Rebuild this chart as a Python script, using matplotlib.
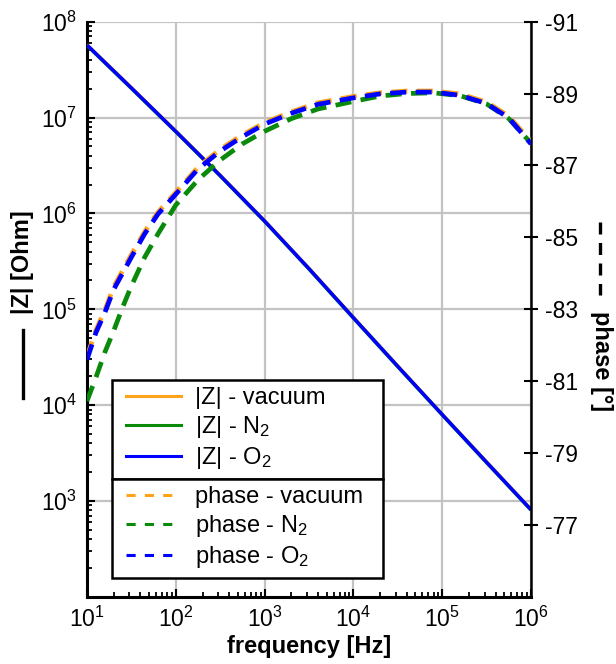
import numpy as np
import matplotlib
matplotlib.use("Agg")
import matplotlib.pyplot as plt
from matplotlib.lines import Line2D
from matplotlib.ticker import FixedLocator, FixedFormatter, LogLocator, NullFormatter

plt.rcParams['font.family'] = ['Liberation Sans', 'DejaVu Sans']
plt.rcParams['mathtext.fontset'] = 'custom'
plt.rcParams['mathtext.rm'] = 'Liberation Sans'
plt.rcParams['mathtext.it'] = 'Liberation Sans:italic'
plt.rcParams['mathtext.bf'] = 'Liberation Sans:bold'
plt.rcParams['axes.unicode_minus'] = False

# ---- data ----
# |Z| curves
z_freq_exp = [1.0, 1.5, 2.0, 2.5, 3.0, 3.5, 4.0, 4.5, 5.0, 5.5, 6.0]
z_o2 = [5.69e7, 2.03e7, 7.16e6, 2.48e6, 8.32e5, 2.65e5, 8.17e4, 2.54e4,
        7.99e3, 2.54e3, 8.13e2]
z_n2 = [5.64e7, 2.01e7, 7.10e6, 2.46e6, 8.25e5, 2.63e5, 8.10e4, 2.52e4,
        7.93e3, 2.52e3, 8.07e2]
z_vac = [5.74e7, 2.05e7, 7.22e6, 2.50e6, 8.39e5, 2.67e5, 8.24e4, 2.56e4,
         8.05e3, 2.56e3, 8.19e2]

# phase curves
ph_freq_exp = [1.0, 1.1, 1.2, 1.3, 1.4, 1.5, 1.65, 1.8, 2.0, 2.25, 2.5, 2.75,
               3.0, 3.3, 3.6, 4.0, 4.3, 4.6, 4.9, 5.2, 5.5, 5.75, 6.0]
ph_o2 = [-81.6, -82.35, -82.9, -83.55, -84.0, -84.45, -85.1, -85.65, -86.2,
         -86.9, -87.4, -87.8, -88.15, -88.45, -88.7, -88.88, -88.99, -89.04,
         -89.04, -88.95, -88.72, -88.32, -87.6]
ph_n2 = [-80.45, -81.1, -81.8, -82.4, -83.05, -83.65, -84.45, -85.1, -85.9,
         -86.6, -87.15, -87.6, -87.95, -88.3, -88.57, -88.78, -88.93, -89.0,
         -89.02, -88.94, -88.71, -88.3, -87.62]
ph_vac = [-81.68, -82.42, -82.97, -83.62, -84.07, -84.52, -85.16, -85.7, -86.25,
          -86.95, -87.45, -87.85, -88.19, -88.49, -88.74, -88.92, -89.02, -89.07,
          -89.07, -88.99, -88.76, -88.37, -87.66]

labels_z = ['|Z| - vacuum', '|Z| - N$_2$', '|Z| - O$_2$']
labels_ph = ['phase - vacuum', 'phase - N$_2$', 'phase - O$_2$']
colors = ['#ffa31a', '#0a8a0a', '#0000ff']

phase_ticks = [-91, -89, -87, -85, -83, -81, -79, -77]
z_ticks = [1e3, 1e4, 1e5, 1e6, 1e7, 1e8]
z_ticklabels = ['$10^{3}$', '$10^{4}$', '$10^{5}$', '$10^{6}$', '$10^{7}$', '$10^{8}$']
x_ticks = [1e1, 1e2, 1e3, 1e4, 1e5, 1e6]
x_ticklabels = ['$10^{1}$', '$10^{2}$', '$10^{3}$', '$10^{4}$', '$10^{5}$', '$10^{6}$']

z_freq = [10 ** e for e in z_freq_exp]
ph_freq = [10 ** e for e in ph_freq_exp]

W, H = 616, 664
fig = plt.figure(figsize=(W / 100, H / 100), dpi=100)
L, R, T, B = 87, 531, 21.6, 597
ax = fig.add_axes([L / W, 1 - B / H, (R - L) / W, (B - T) / H])
ax2 = ax.twinx()

FS = 17
grid_c = '#c3c3c3'

ax.set_xscale('log')
ax.set_yscale('log')
ax.set_xlim(1e1, 1e6)
ax.set_ylim(1e2, 1e8)
ax.grid(True, which='major', color=grid_c, lw=1.6, zorder=0)
ax.set_axisbelow(True)

for z, c in zip([z_vac, z_n2, z_o2], colors):
    ax.plot(z_freq, z, color=c, lw=2.5, solid_capstyle='butt', zorder=3)

ax.yaxis.set_major_locator(FixedLocator(z_ticks))
ax.yaxis.set_major_formatter(FixedFormatter(z_ticklabels))
ax.yaxis.set_minor_locator(LogLocator(base=10, subs=np.arange(2, 10), numticks=20))
ax.yaxis.set_minor_formatter(NullFormatter())
ax.xaxis.set_major_locator(FixedLocator(x_ticks))
ax.xaxis.set_major_formatter(FixedFormatter(x_ticklabels))
ax.xaxis.set_minor_locator(LogLocator(base=10, subs=np.arange(2, 10), numticks=20))
ax.xaxis.set_minor_formatter(NullFormatter())

ax.tick_params(axis='both', which='major', direction='in', length=6, width=1.5,
               labelsize=16.5, pad=7)
ax.tick_params(axis='both', which='minor', direction='in', length=3.5, width=1.3)
ax.tick_params(axis='y', which='both', right=False)
ax.tick_params(axis='x', which='both', top=False)
ax.tick_params(axis='x', which='major', pad=7)

ax.spines['top'].set_visible(False)
ax.spines['right'].set_visible(False)
ax.spines['left'].set_linewidth(2.2)
ax.spines['bottom'].set_linewidth(2.2)

ax.set_xlabel('frequency [Hz]', fontsize=FS, fontweight='bold', labelpad=2)

# phase axis
ax2.set_ylim(-75, -91)
for p, c in zip([ph_vac, ph_n2, ph_o2], colors):
    ax2.plot(ph_freq, p, color=c, lw=3.4, dashes=(3.4, 2.0), dash_capstyle='butt', zorder=3)
ax2.yaxis.set_major_locator(FixedLocator(phase_ticks))
ax2.yaxis.set_major_formatter(FixedFormatter([str(t) for t in phase_ticks]))
ax2.tick_params(axis='y', which='major', direction='inout', length=10, width=1.5,
                labelsize=16.5, pad=5)
ax2.tick_params(axis='y', which='minor', right=False)
for s in ['top', 'left', 'bottom']:
    ax2.spines[s].set_visible(False)
ax2.spines['right'].set_linewidth(1.8)

# legends
leg_left = 112.3 / W
leg_w = (383.3 - 112.3) / W
h_z = [Line2D([], [], color=c, lw=2.2) for c in colors]
h_p = [Line2D([], [], color=c, lw=2.2, dashes=(3.0, 3.0)) for c in colors]
common = dict(loc='upper left', mode='expand', borderaxespad=0, fontsize=FS,
              frameon=True, fancybox=False, edgecolor='black', framealpha=1,
              numpoints=2, handlelength=2.9, handletextpad=0.32, labelspacing=0.22,
              borderpad=0.3, bbox_transform=fig.transFigure)
leg1 = ax2.legend(h_z, labels_z, bbox_to_anchor=(leg_left, 1 - 380 / H, leg_w, 0), **common)
leg1.get_frame().set_linewidth(1.8)
ax2.add_artist(leg1)
leg2 = ax2.legend(h_p, labels_ph, bbox_to_anchor=(leg_left, 1 - 479 / H, leg_w, 0), **common)
leg2.get_frame().set_linewidth(1.8)

# axis titles with line-style markers
fig.text(22.7 / W, 1 - 262 / H, '|Z| [Ohm]', rotation=90, ha='center', va='center',
         fontsize=FS, fontweight='bold')
fig.add_artist(Line2D([23.3 / W, 23.3 / W], [1 - 330 / H, 1 - 398 / H],
                      transform=fig.transFigure, color='black', lw=2.4))
fig.text(601.7 / W, 1 - 361 / H, 'phase [°]', rotation=270, ha='center', va='center',
         fontsize=FS, fontweight='bold')
fig.add_artist(Line2D([600 / W, 600 / W], [1 - 222 / H, 1 - 295 / H],
                      transform=fig.transFigure, color='black', lw=2.4,
                      dashes=(3.6, 2.55), dash_capstyle='butt'))

fig.savefig('out.png', dpi=100)
